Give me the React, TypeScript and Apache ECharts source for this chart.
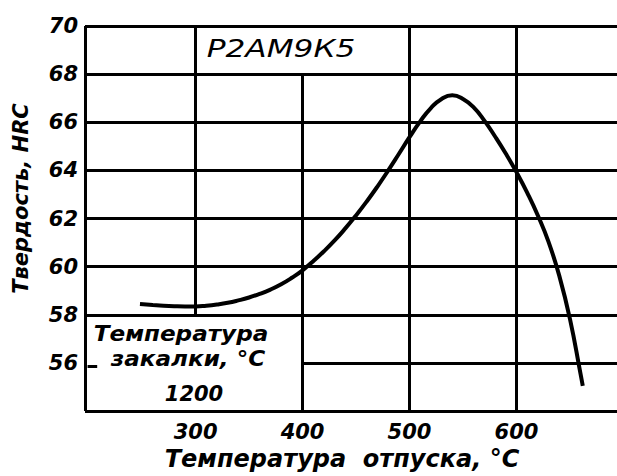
import React, { useEffect, useRef } from "react";
import * as echarts from "echarts";

// Tempering temperature, °C
const TEMP = [248, 260, 270, 280, 290, 300, 310, 320, 330, 340, 350, 360, 370, 380, 390, 400, 410, 420, 430, 440, 450, 460, 470, 480, 490, 500, 510, 520, 530, 540, 550, 560, 570, 580, 590, 600, 610, 620, 630, 640, 650, 660, 662];
// Hardness, HRC
const HRC = [58.45, 58.41, 58.38, 58.36, 58.35, 58.35, 58.38, 58.43, 58.5, 58.6, 58.72, 58.87, 59.05, 59.27, 59.54, 59.85, 60.23, 60.64, 61.09, 61.59, 62.13, 62.71, 63.33, 63.99, 64.68, 65.38, 66.04, 66.59, 66.97, 67.12, 66.97, 66.62, 66.07, 65.41, 64.7, 63.93, 63.08, 62.13, 61.03, 59.63, 57.83, 55.53, 55.05];

const X_MIN = 196.6;
const X_MAX = 694;
const Y_MIN = 54;
const Y_MAX = 70;
const X_TICKS = [300, 400, 500, 600];
const Y_TICKS = [56, 58, 60, 62, 64, 66, 68, 70];

// horizontal segments: [y, xFrom, xTo]
const GRID_H: [number, number, number][] = [
  [70, X_MIN, X_MAX],
  [68, X_MIN, X_MAX],
  [66, X_MIN, X_MAX],
  [64, X_MIN, X_MAX],
  [62, X_MIN, X_MAX],
  [60, X_MIN, X_MAX],
  [58, X_MIN, X_MAX],
  [56, 400, X_MAX],
  [54, X_MIN, X_MAX],
  [55.85, 199, 208],
];
// vertical segments: [x, yFrom, yTo]
const GRID_V: [number, number, number][] = [
  [X_MIN, 54, 70],
  [300, 58, 70],
  [400, 54, 68],
  [500, 54, 70],
  [600, 54, 70],
];

const STEEL = "Р2АМ9К5";
const BOX_LINE1 = "Температура";
const BOX_LINE2 = "закалки, °C";
const BOX_LINE3 = "1200";
const X_NAME = "Температура  отпуска, °C";
const Y_NAME = "Твердость, HRC";

const FONT = "'DejaVu Sans', 'Noto Sans', sans-serif";

export default function App() {
  const ref = useRef<HTMLDivElement>(null);
  useEffect(() => {
    if (!ref.current) return;
    const chart = echarts.init(ref.current, undefined, { renderer: "svg" });
    const segs: any[] = [];
    GRID_H.forEach(([y, a, b]) => segs.push([{ coord: [a, y] }, { coord: [b, y] }]));
    GRID_V.forEach(([x, a, b]) => segs.push([{ coord: [x, a] }, { coord: [x, b] }]));
    const textStyle = (size: number, weight: string) => ({
      fontFamily: FONT,
      fontStyle: "italic",
      fontWeight: weight,
      fontSize: size,
      color: "#000",
    });
    chart.setOption({
      animation: false,
      backgroundColor: "#fff",
      grid: { left: 85, right: 0, top: 26, bottom: 64, containLabel: false },
      xAxis: {
        type: "value",
        min: X_MIN,
        max: X_MAX,
        axisLine: { show: false },
        axisTick: { show: false },
        splitLine: { show: false },
        axisLabel: { ...textStyle(21, "bold"), customValues: X_TICKS, margin: 10 },
        name: X_NAME,
        nameLocation: "middle",
        nameGap: 34,
        nameTextStyle: { ...textStyle(24, "bold"), padding: [0, 18, 0, 0] },
      },
      yAxis: {
        type: "value",
        min: Y_MIN,
        max: Y_MAX,
        axisLine: { show: false },
        axisTick: { show: false },
        splitLine: { show: false },
        axisLabel: { ...textStyle(21, "bold"), customValues: Y_TICKS, margin: 7 },
        name: Y_NAME,
        nameLocation: "middle",
        nameGap: 54,
        nameTextStyle: { ...textStyle(21, "bold"), padding: [0, 0, 0, 40] },
      },
      graphic: [
        {
          type: "text",
          x: 281,
          y: 49,
          scaleX: 1.3,
          style: { text: STEEL, font: `italic 24px ${FONT}`, fill: "#000", textAlign: "center", textVerticalAlign: "middle" },
        },
        {
          type: "text",
          x: 181,
          y: 334,
          scaleX: 1.1,
          style: { text: BOX_LINE1, font: `italic bold 21px ${FONT}`, fill: "#000", textAlign: "center", textVerticalAlign: "middle" },
        },
        {
          type: "text",
          x: 188,
          y: 359,
          scaleX: 1.1,
          style: { text: BOX_LINE2, font: `italic bold 21px ${FONT}`, fill: "#000", textAlign: "center", textVerticalAlign: "middle" },
        },
        {
          type: "text",
          x: 194,
          y: 394,
          style: { text: BOX_LINE3, font: `italic bold 21px ${FONT}`, fill: "#000", textAlign: "center", textVerticalAlign: "middle" },
        },
      ],
      series: [
        {
          type: "line",
          data: TEMP.map((t, i) => [t, HRC[i]]),
          smooth: 0.5,
          showSymbol: false,
          clip: false,
          lineStyle: { color: "#000", width: 4 },
          markLine: {
            silent: true,
            symbol: "none",
            label: { show: false },
            lineStyle: { color: "#000", width: 3, type: "solid" },
            data: segs,
          },
        },
      ],
    });
    return () => chart.dispose();
  }, []);
  return (
    <div
      ref={ref}
      style={{ position: "fixed", left: 0, top: 0, width: 617, height: 476, background: "#fff" }}
    />
  );
}
